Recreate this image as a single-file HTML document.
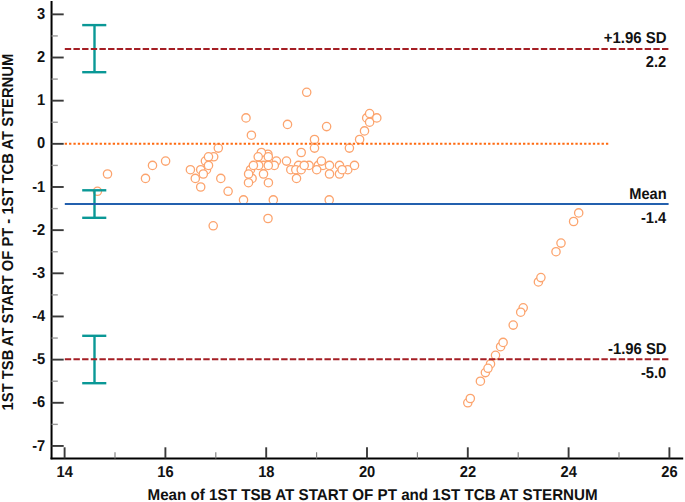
<!DOCTYPE html>
<html><head><meta charset="utf-8"><title>Bland-Altman plot</title>
<style>html,body{margin:0;padding:0;background:#fff;}svg{display:block;}svg{text-rendering:geometricPrecision;}text{font-family:"Liberation Sans",sans-serif;font-weight:bold;fill:#111;}</style>
</head><body>
<svg width="685" height="502" viewBox="0 0 685 502">
<rect width="685" height="502" fill="#fff"/>
<g fill="#fff" stroke="#fca46e" stroke-width="1.3">
<circle cx="97.4" cy="191.3" r="4.15"/>
<circle cx="107.5" cy="174.0" r="4.15"/>
<circle cx="145.5" cy="178.4" r="4.15"/>
<circle cx="152.5" cy="165.4" r="4.15"/>
<circle cx="165.6" cy="161.1" r="4.15"/>
<circle cx="190.4" cy="169.7" r="4.15"/>
<circle cx="206.5" cy="169.7" r="4.15"/>
<circle cx="205.4" cy="161.1" r="4.15"/>
<circle cx="213.7" cy="156.8" r="4.15"/>
<circle cx="208.5" cy="156.8" r="4.15"/>
<circle cx="200.7" cy="169.7" r="4.15"/>
<circle cx="208.5" cy="165.4" r="4.15"/>
<circle cx="203.3" cy="174.0" r="4.15"/>
<circle cx="218.3" cy="148.1" r="4.15"/>
<circle cx="195.3" cy="178.4" r="4.15"/>
<circle cx="220.8" cy="178.4" r="4.15"/>
<circle cx="200.7" cy="187.0" r="4.15"/>
<circle cx="228.1" cy="191.3" r="4.15"/>
<circle cx="267.9" cy="154.2" r="4.15"/>
<circle cx="261.4" cy="152.5" r="4.15"/>
<circle cx="258.2" cy="156.8" r="4.15"/>
<circle cx="268.3" cy="156.8" r="4.15"/>
<circle cx="263.5" cy="165.4" r="4.15"/>
<circle cx="276.4" cy="161.1" r="4.15"/>
<circle cx="274.3" cy="165.4" r="4.15"/>
<circle cx="268.3" cy="165.4" r="4.15"/>
<circle cx="258.7" cy="165.4" r="4.15"/>
<circle cx="250.5" cy="169.7" r="4.15"/>
<circle cx="253.4" cy="165.4" r="4.15"/>
<circle cx="252.1" cy="178.4" r="4.15"/>
<circle cx="248.6" cy="174.0" r="4.15"/>
<circle cx="248.5" cy="182.7" r="4.15"/>
<circle cx="263.5" cy="174.0" r="4.15"/>
<circle cx="268.4" cy="182.7" r="4.15"/>
<circle cx="286.5" cy="161.1" r="4.15"/>
<circle cx="298.5" cy="165.4" r="4.15"/>
<circle cx="290.8" cy="169.7" r="4.15"/>
<circle cx="295.8" cy="169.7" r="4.15"/>
<circle cx="301.2" cy="169.7" r="4.15"/>
<circle cx="309.0" cy="165.4" r="4.15"/>
<circle cx="304.2" cy="165.4" r="4.15"/>
<circle cx="296.5" cy="178.4" r="4.15"/>
<circle cx="301.2" cy="152.5" r="4.15"/>
<circle cx="314.5" cy="148.1" r="4.15"/>
<circle cx="314.5" cy="139.5" r="4.15"/>
<circle cx="349.4" cy="148.1" r="4.15"/>
<circle cx="359.6" cy="139.5" r="4.15"/>
<circle cx="318.3" cy="165.4" r="4.15"/>
<circle cx="323.0" cy="165.4" r="4.15"/>
<circle cx="321.4" cy="161.1" r="4.15"/>
<circle cx="316.7" cy="169.7" r="4.15"/>
<circle cx="329.5" cy="165.4" r="4.15"/>
<circle cx="329.5" cy="174.0" r="4.15"/>
<circle cx="339.5" cy="165.4" r="4.15"/>
<circle cx="339.5" cy="174.0" r="4.15"/>
<circle cx="347.8" cy="169.7" r="4.15"/>
<circle cx="342.1" cy="169.7" r="4.15"/>
<circle cx="354.5" cy="165.4" r="4.15"/>
<circle cx="306.7" cy="92.3" r="4.15"/>
<circle cx="246.0" cy="117.9" r="4.15"/>
<circle cx="251.4" cy="135.2" r="4.15"/>
<circle cx="287.5" cy="124.4" r="4.15"/>
<circle cx="326.6" cy="126.6" r="4.15"/>
<circle cx="364.5" cy="130.9" r="4.15"/>
<circle cx="366.7" cy="117.9" r="4.15"/>
<circle cx="369.6" cy="122.2" r="4.15"/>
<circle cx="369.6" cy="113.6" r="4.15"/>
<circle cx="376.8" cy="117.9" r="4.15"/>
<circle cx="243.5" cy="199.9" r="4.15"/>
<circle cx="273.3" cy="199.9" r="4.15"/>
<circle cx="329.2" cy="199.9" r="4.15"/>
<circle cx="268.0" cy="218.5" r="4.15"/>
<circle cx="213.2" cy="225.8" r="4.15"/>
<circle cx="467.8" cy="402.8" r="4.15"/>
<circle cx="470.3" cy="398.5" r="4.15"/>
<circle cx="480.4" cy="381.2" r="4.15"/>
<circle cx="485.4" cy="372.6" r="4.15"/>
<circle cx="490.5" cy="363.9" r="4.15"/>
<circle cx="488.0" cy="368.3" r="4.15"/>
<circle cx="495.5" cy="355.3" r="4.15"/>
<circle cx="500.6" cy="346.7" r="4.15"/>
<circle cx="503.1" cy="342.4" r="4.15"/>
<circle cx="513.2" cy="325.1" r="4.15"/>
<circle cx="523.2" cy="307.8" r="4.15"/>
<circle cx="520.7" cy="312.2" r="4.15"/>
<circle cx="538.4" cy="281.9" r="4.15"/>
<circle cx="540.9" cy="277.6" r="4.15"/>
<circle cx="556.0" cy="251.7" r="4.15"/>
<circle cx="561.0" cy="243.1" r="4.15"/>
<circle cx="573.6" cy="221.5" r="4.15"/>
<circle cx="578.7" cy="212.9" r="4.15"/>
</g>
<g stroke="#0a9896" stroke-width="2.4" fill="none"><line x1="94.5" y1="25.10" x2="94.5" y2="72.20"/><line x1="82.2" y1="25.10" x2="106.3" y2="25.10"/><line x1="82.2" y1="72.20" x2="106.3" y2="72.20"/></g>
<g stroke="#0a9896" stroke-width="2.4" fill="none"><line x1="94.5" y1="190.30" x2="94.5" y2="217.80"/><line x1="82.2" y1="190.30" x2="106.3" y2="190.30"/><line x1="82.2" y1="217.80" x2="106.3" y2="217.80"/></g>
<g stroke="#0a9896" stroke-width="2.4" fill="none"><line x1="94.5" y1="335.80" x2="94.5" y2="383.20"/><line x1="82.2" y1="335.80" x2="106.3" y2="335.80"/><line x1="82.2" y1="383.20" x2="106.3" y2="383.20"/></g>
<line x1="64.7" y1="143.8" x2="608.7" y2="143.8" stroke="#ff6a10" stroke-width="2.1" stroke-dasharray="2.3 2.065"/>
<line x1="64.8" y1="48.9" x2="668.9" y2="48.9" stroke="#a41e24" stroke-width="2" stroke-dasharray="6.4 2.255"/>
<line x1="64.8" y1="359.2" x2="668.9" y2="359.2" stroke="#a41e24" stroke-width="2" stroke-dasharray="6.4 2.255"/>
<line x1="64.8" y1="204.0" x2="668.6" y2="204.0" stroke="#2360ae" stroke-width="2"/>
<line x1="51.55" y1="1" x2="51.55" y2="459.34999999999997" stroke="#000" stroke-width="2"/>
<line x1="50.55" y1="458.45" x2="683.2" y2="458.45" stroke="#000" stroke-width="1.85"/>
<line x1="51.55" y1="14.35" x2="63.7" y2="14.35" stroke="#3a3a3a" stroke-width="1.9"/>
<line x1="51.55" y1="35.93" x2="57.8" y2="35.93" stroke="#999" stroke-width="1.4"/>
<line x1="51.55" y1="57.51" x2="63.7" y2="57.51" stroke="#3a3a3a" stroke-width="1.9"/>
<line x1="51.55" y1="79.09" x2="57.8" y2="79.09" stroke="#999" stroke-width="1.4"/>
<line x1="51.55" y1="100.67" x2="63.7" y2="100.67" stroke="#3a3a3a" stroke-width="1.9"/>
<line x1="51.55" y1="122.25" x2="57.8" y2="122.25" stroke="#999" stroke-width="1.4"/>
<line x1="51.55" y1="143.83" x2="63.7" y2="143.83" stroke="#3a3a3a" stroke-width="1.9"/>
<line x1="51.55" y1="165.41" x2="57.8" y2="165.41" stroke="#999" stroke-width="1.4"/>
<line x1="51.55" y1="186.99" x2="63.7" y2="186.99" stroke="#3a3a3a" stroke-width="1.9"/>
<line x1="51.55" y1="208.57" x2="57.8" y2="208.57" stroke="#999" stroke-width="1.4"/>
<line x1="51.55" y1="230.15" x2="63.7" y2="230.15" stroke="#3a3a3a" stroke-width="1.9"/>
<line x1="51.55" y1="251.73" x2="57.8" y2="251.73" stroke="#999" stroke-width="1.4"/>
<line x1="51.55" y1="273.31" x2="63.7" y2="273.31" stroke="#3a3a3a" stroke-width="1.9"/>
<line x1="51.55" y1="294.89" x2="57.8" y2="294.89" stroke="#999" stroke-width="1.4"/>
<line x1="51.55" y1="316.47" x2="63.7" y2="316.47" stroke="#3a3a3a" stroke-width="1.9"/>
<line x1="51.55" y1="338.05" x2="57.8" y2="338.05" stroke="#999" stroke-width="1.4"/>
<line x1="51.55" y1="359.63" x2="63.7" y2="359.63" stroke="#3a3a3a" stroke-width="1.9"/>
<line x1="51.55" y1="381.21" x2="57.8" y2="381.21" stroke="#999" stroke-width="1.4"/>
<line x1="51.55" y1="402.79" x2="63.7" y2="402.79" stroke="#3a3a3a" stroke-width="1.9"/>
<line x1="51.55" y1="424.37" x2="57.8" y2="424.37" stroke="#999" stroke-width="1.4"/>
<line x1="51.55" y1="445.95" x2="63.7" y2="445.95" stroke="#3a3a3a" stroke-width="1.9"/>
<line x1="64.60" y1="458.45" x2="64.60" y2="447.3" stroke="#3a3a3a" stroke-width="1.9"/>
<line x1="115.00" y1="458.45" x2="115.00" y2="452.2" stroke="#808080" stroke-width="1.15"/>
<line x1="165.40" y1="458.45" x2="165.40" y2="447.3" stroke="#3a3a3a" stroke-width="1.9"/>
<line x1="215.80" y1="458.45" x2="215.80" y2="452.2" stroke="#808080" stroke-width="1.15"/>
<line x1="266.20" y1="458.45" x2="266.20" y2="447.3" stroke="#3a3a3a" stroke-width="1.9"/>
<line x1="316.60" y1="458.45" x2="316.60" y2="452.2" stroke="#808080" stroke-width="1.15"/>
<line x1="367.00" y1="458.45" x2="367.00" y2="447.3" stroke="#3a3a3a" stroke-width="1.9"/>
<line x1="417.40" y1="458.45" x2="417.40" y2="452.2" stroke="#808080" stroke-width="1.15"/>
<line x1="467.80" y1="458.45" x2="467.80" y2="447.3" stroke="#3a3a3a" stroke-width="1.9"/>
<line x1="518.20" y1="458.45" x2="518.20" y2="452.2" stroke="#808080" stroke-width="1.15"/>
<line x1="568.60" y1="458.45" x2="568.60" y2="447.3" stroke="#3a3a3a" stroke-width="1.9"/>
<line x1="619.00" y1="458.45" x2="619.00" y2="452.2" stroke="#808080" stroke-width="1.15"/>
<line x1="669.40" y1="458.45" x2="669.40" y2="447.3" stroke="#3a3a3a" stroke-width="1.9"/>
<text transform="translate(45.20,18.95) scale(0.9300,1)" font-size="15.8" text-anchor="end">3</text>
<text transform="translate(45.20,62.11) scale(0.9300,1)" font-size="15.8" text-anchor="end">2</text>
<text transform="translate(45.20,105.27) scale(0.9300,1)" font-size="15.8" text-anchor="end">1</text>
<text transform="translate(45.20,148.43) scale(0.9300,1)" font-size="15.8" text-anchor="end">0</text>
<text transform="translate(45.20,191.59) scale(0.9300,1)" font-size="15.8" text-anchor="end">-1</text>
<text transform="translate(45.20,234.75) scale(0.9300,1)" font-size="15.8" text-anchor="end">-2</text>
<text transform="translate(45.20,277.91) scale(0.9300,1)" font-size="15.8" text-anchor="end">-3</text>
<text transform="translate(45.20,321.07) scale(0.9300,1)" font-size="15.8" text-anchor="end">-4</text>
<text transform="translate(45.20,364.23) scale(0.9300,1)" font-size="15.8" text-anchor="end">-5</text>
<text transform="translate(45.20,407.39) scale(0.9300,1)" font-size="15.8" text-anchor="end">-6</text>
<text transform="translate(45.20,450.55) scale(0.9300,1)" font-size="15.8" text-anchor="end">-7</text>
<text transform="translate(64.70,477.40) scale(0.9300,1)" font-size="15.8" text-anchor="middle">14</text>
<text transform="translate(165.50,477.40) scale(0.9300,1)" font-size="15.8" text-anchor="middle">16</text>
<text transform="translate(266.30,477.40) scale(0.9300,1)" font-size="15.8" text-anchor="middle">18</text>
<text transform="translate(367.10,477.40) scale(0.9300,1)" font-size="15.8" text-anchor="middle">20</text>
<text transform="translate(467.90,477.40) scale(0.9300,1)" font-size="15.8" text-anchor="middle">22</text>
<text transform="translate(568.70,477.40) scale(0.9300,1)" font-size="15.8" text-anchor="middle">24</text>
<text transform="translate(669.50,477.40) scale(0.9300,1)" font-size="15.8" text-anchor="middle">26</text>
<text x="147.5" y="500.3" font-size="15.8" textLength="450.2" lengthAdjust="spacingAndGlyphs">Mean of 1ST TSB AT START OF PT and 1ST TCB AT STERNUM</text>
<text transform="translate(12.7,410.4) rotate(-90)" font-size="15.8" textLength="356.6" lengthAdjust="spacingAndGlyphs">1ST TSB AT START OF PT - 1ST TCB AT STERNUM</text>
<text transform="translate(666.60,43.40) scale(0.9470,1)" font-size="15.8" text-anchor="end">+1.96 SD</text><text transform="translate(666.30,67.40) scale(0.9300,1)" font-size="15.8" text-anchor="end">2.2</text>
<text transform="translate(666.60,198.50) scale(0.9250,1)" font-size="15.8" text-anchor="end">Mean</text><text transform="translate(666.30,222.50) scale(0.9300,1)" font-size="15.8" text-anchor="end">-1.4</text>
<text transform="translate(666.60,353.70) scale(0.9400,1)" font-size="15.8" text-anchor="end">-1.96 SD</text><text transform="translate(666.30,377.70) scale(0.9300,1)" font-size="15.8" text-anchor="end">-5.0</text>
</svg></body></html>
